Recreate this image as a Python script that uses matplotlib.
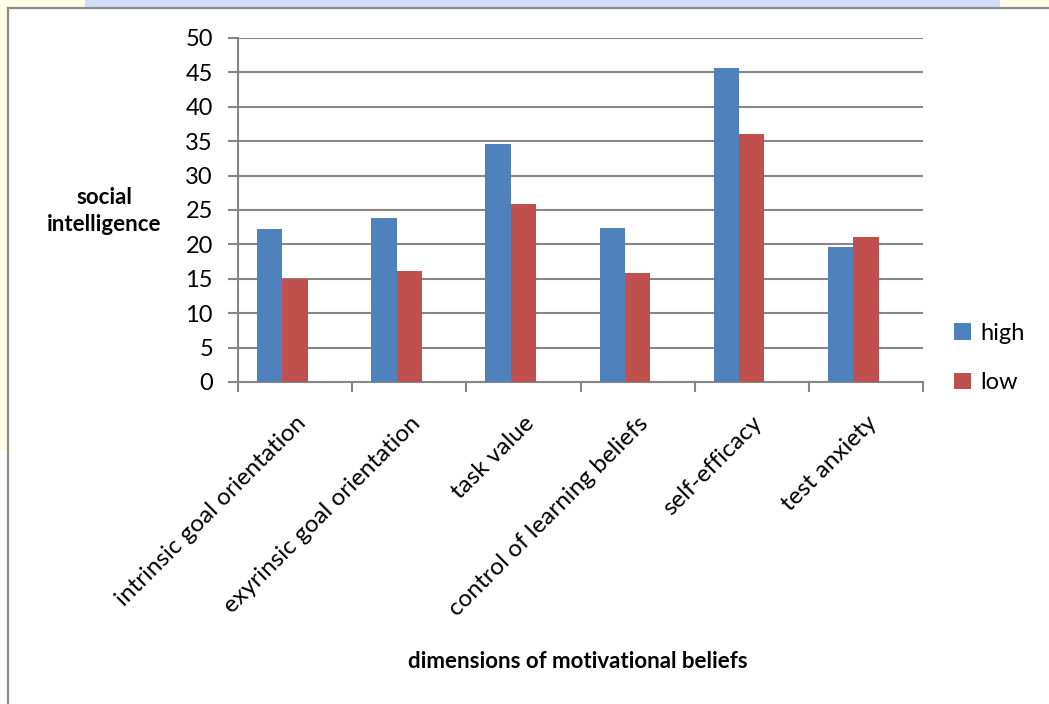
import matplotlib.pyplot as plt
from matplotlib.patches import Rectangle
from matplotlib.lines import Line2D

categories = [
    "intrinsic goal orientation",
    "exyrinsic goal orientation",
    "task value",
    "control of learning beliefs",
    "self-efficacy",
    "test anxiety",
]
high = [22.2, 23.8, 34.6, 22.4, 45.7, 19.6]
low = [15.0, 16.2, 25.9, 15.8, 36.1, 21.1]
yticks = list(range(0, 51, 5))

BLUE = "#4F81BD"
RED = "#C0504D"
GRID = "#868686"

plt.rcParams["font.family"] = ["Lato", "DejaVu Sans"]

W, H = 1049, 704
fig = plt.figure(figsize=(W / 100, H / 100), dpi=100)
fig.patch.set_facecolor("white")

# slide background strips behind the chart frame
fig.patches.append(Rectangle((0, 1 - 450 / H), 8 / W, 450 / H, transform=fig.transFigure,
                             facecolor="#FFFDE6", edgecolor="none", zorder=0))
fig.patches.append(Rectangle((0, 1 - 8 / H), 1, 8 / H, transform=fig.transFigure,
                             facecolor="#FFFDE6", edgecolor="none", zorder=0))
fig.patches.append(Rectangle((85 / W, 1 - 8 / H), 915 / W, 8 / H, transform=fig.transFigure,
                             facecolor="#D3DDFB", edgecolor="none", zorder=0))
fig.lines.append(Line2D([8 / W, 8 / W], [0, 1 - 8 / H], transform=fig.transFigure,
                        color="#8C8C8C", lw=1.6))
fig.lines.append(Line2D([8 / W, 1], [1 - 8 / H, 1 - 8 / H], transform=fig.transFigure,
                        color="#8C8C8C", lw=1.6))

ax = fig.add_axes([238 / W, 1 - 382 / H, (923 - 238) / W, (382 - 38) / H])

w = 0.222
x = [i + 0.5 for i in range(len(categories))]
ax.bar([v - w for v in x], high, width=w, color=BLUE, label="high", zorder=3)
ax.bar(x, low, width=w, color=RED, label="low", zorder=3)

ax.set_xlim(0, len(categories))
ax.set_ylim(0, 50)
ax.set_yticks(yticks)
ax.set_yticklabels([str(t) for t in yticks], fontsize=17)
ax.yaxis.grid(True, color=GRID, lw=1.5, zorder=0)
ax.set_axisbelow(True)

ax.set_xticks(range(len(categories) + 1))
ax.set_xticklabels([])
ax.set_xticks(x, minor=True)
ax.set_xticklabels(categories, minor=True, rotation=45, ha="right", va="top",
                   rotation_mode="anchor", fontsize=17.5)
ax.tick_params(axis="x", which="minor", length=0, pad=22)
ax.tick_params(axis="x", which="major", length=7, width=1.5, color=GRID)
ax.tick_params(axis="y", length=7, width=1.5, color=GRID, pad=11)

for s in ["top", "right"]:
    ax.spines[s].set_visible(False)
for s in ["left", "bottom"]:
    ax.spines[s].set_color(GRID)
    ax.spines[s].set_linewidth(1.5)

fig.text(104 / W, 1 - 211 / H, "social\nintelligence", ha="center", va="center",
         fontsize=16, fontweight="bold", linespacing=1.4)
fig.text(578 / W, 1 - 662 / H, "dimensions of motivational beliefs", ha="center",
         va="center", fontsize=16, fontweight="bold")

ax.legend(loc="center left", bbox_to_anchor=(933 / W, 1 - 358 / H),
          bbox_transform=fig.transFigure, frameon=False, fontsize=17,
          handlelength=0.7, handleheight=0.7, handletextpad=0.4, labelspacing=1.2)

fig.savefig("out.png", dpi=100)
